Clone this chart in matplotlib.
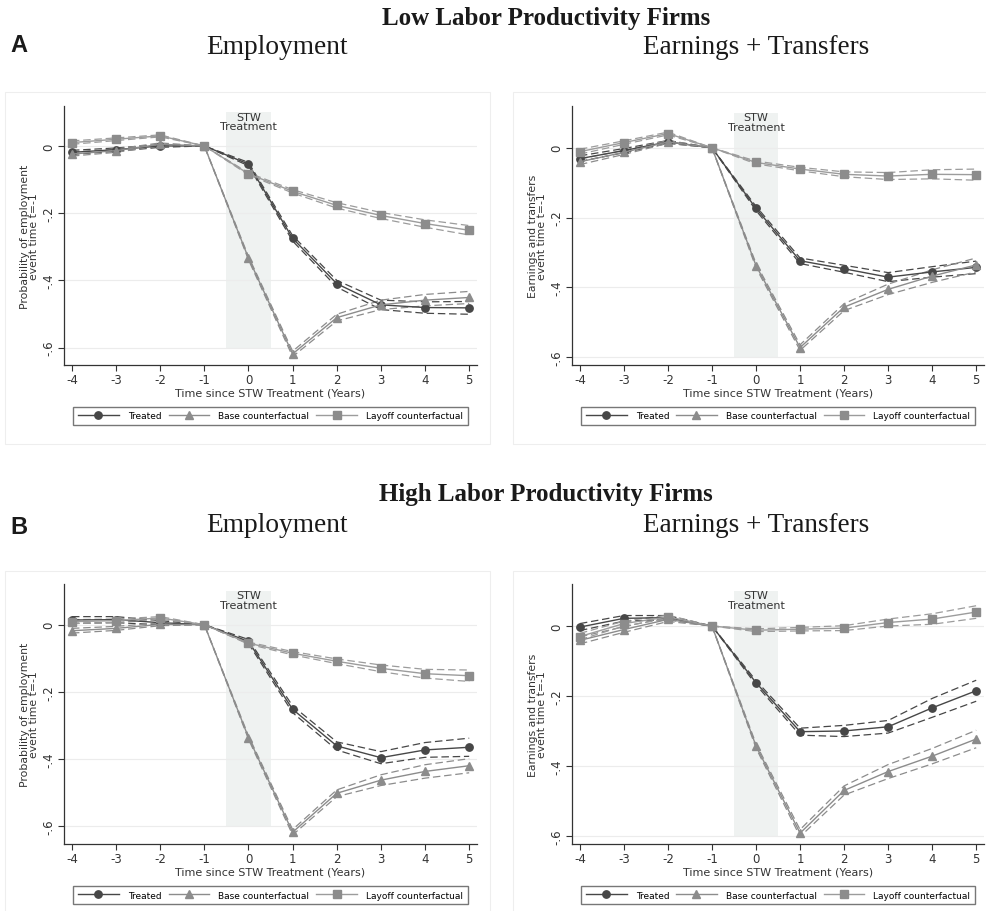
import numpy as np
import matplotlib
matplotlib.use('Agg')
import matplotlib.pyplot as plt
from matplotlib.patches import Rectangle

# Event time relative to STW treatment
years = [-4, -3, -2, -1, 0, 1, 2, 3, 4, 5]

# Panel A, employment (low labor productivity firms)
low_emp_treated = [-0.019, -0.011, 0.000, 0.0, -0.054, -0.275, -0.410, -0.473, -0.481, -0.482]
low_emp_base = [-0.024, -0.014, 0.005, 0.0, -0.334, -0.619, -0.511, -0.473, -0.459, -0.451]
low_emp_layoff = [0.010, 0.020, 0.030, 0.0, -0.083, -0.135, -0.177, -0.207, -0.231, -0.251]
low_emp_treated_ci = [0.006, 0.005, 0.004, 0.0, 0.005, 0.008, 0.010, 0.014, 0.017, 0.019]
low_emp_base_ci = [0.006, 0.005, 0.004, 0.0, 0.005, 0.008, 0.010, 0.014, 0.017, 0.018]
low_emp_layoff_ci = [0.005, 0.004, 0.003, 0.0, 0.003, 0.005, 0.008, 0.009, 0.011, 0.014]

# Panel A, earnings + transfers
low_earn_treated = [-0.031, -0.008, 0.017, 0.0, -0.174, -0.324, -0.347, -0.371, -0.356, -0.343]
low_earn_base = [-0.040, -0.013, 0.017, 0.0, -0.338, -0.573, -0.457, -0.406, -0.368, -0.336]
low_earn_layoff = [-0.011, 0.015, 0.041, 0.0, -0.042, -0.061, -0.076, -0.081, -0.076, -0.077]
low_earn_treated_ci = [0.008, 0.006, 0.004, 0.0, 0.006, 0.008, 0.010, 0.013, 0.015, 0.018]
low_earn_base_ci = [0.008, 0.006, 0.004, 0.0, 0.006, 0.008, 0.010, 0.015, 0.018, 0.020]
low_earn_layoff_ci = [0.007, 0.005, 0.004, 0.0, 0.004, 0.005, 0.007, 0.010, 0.013, 0.016]

# Panel B, employment (high labor productivity firms)
high_emp_treated = [0.014, 0.015, 0.006, 0.0, -0.050, -0.252, -0.361, -0.396, -0.373, -0.365]
high_emp_base = [-0.018, -0.011, 0.001, 0.0, -0.336, -0.618, -0.502, -0.463, -0.437, -0.420]
high_emp_layoff = [0.009, 0.012, 0.020, 0.0, -0.055, -0.085, -0.109, -0.130, -0.146, -0.152]
high_emp_treated_ci = [0.010, 0.009, 0.006, 0.0, 0.006, 0.010, 0.012, 0.018, 0.022, 0.027]
high_emp_base_ci = [0.007, 0.006, 0.004, 0.0, 0.005, 0.008, 0.010, 0.016, 0.020, 0.021]
high_emp_layoff_ci = [0.006, 0.005, 0.004, 0.0, 0.003, 0.005, 0.007, 0.010, 0.013, 0.017]

# Panel B, earnings + transfers
high_earn_treated = [-0.003, 0.022, 0.024, 0.0, -0.162, -0.302, -0.300, -0.288, -0.234, -0.185]
high_earn_base = [-0.041, -0.010, 0.019, 0.0, -0.343, -0.592, -0.470, -0.416, -0.372, -0.323]
high_earn_layoff = [-0.030, 0.007, 0.026, 0.0, -0.012, -0.009, -0.006, 0.010, 0.020, 0.040]
high_earn_treated_ci = [0.010, 0.008, 0.006, 0.0, 0.006, 0.010, 0.016, 0.018, 0.027, 0.030]
high_earn_base_ci = [0.010, 0.008, 0.006, 0.0, 0.006, 0.010, 0.013, 0.020, 0.022, 0.025]
high_earn_layoff_ci = [0.009, 0.007, 0.005, 0.0, 0.004, 0.005, 0.007, 0.010, 0.015, 0.018]

series_labels = ["Treated", "Base counterfactual", "Layoff counterfactual"]
yticks = [0, -0.2, -0.4, -0.6]
ytick_labels = ["0", "-.2", "-.4", "-.6"]

styles = [
    dict(color="#474747", mfc="#474747", marker="o", ms=5.3),
    dict(color="#8c8c8c", mfc="#8c8c8c", marker="^", ms=5.8),
    dict(color="#9c9c9c", mfc="#8c8c8c", marker="s", ms=5.6),
]

plt.rcParams['font.family'] = ['DejaVu Sans']
fig = plt.figure(figsize=(9.86, 9.12), dpi=100)


def draw_panel(rect, series, cis, ylabel):
    ax = fig.add_axes(rect)
    x = np.array(years)
    ax.add_patch(Rectangle((-0.5, -0.6), 1.0, 0.7, facecolor="#eff2f1",
                           edgecolor="none", zorder=0))
    ax.text(0, 0.102, "STW\nTreatment", ha="center", va="top", fontsize=8,
            color="#333333", linespacing=0.95)
    for yt in yticks:
        ax.axhline(yt, color="#ececec", lw=0.8, zorder=0.5)

    # confidence bands first, point estimates on top
    for vals, ci, st in zip(series, cis, styles):
        v = np.array(vals)
        c = np.array(ci)
        for b in (v + c, v - c):
            ax.plot(x, b, color=st["color"], lw=0.9, ls=(0, (6, 3)), zorder=2)
    handles = []
    for vals, st, lab in zip(series, styles, series_labels):
        h, = ax.plot(x, vals, color=st["color"], lw=1.0, marker=st["marker"],
                     ms=st["ms"], mfc=st["mfc"], mec=st["mfc"], label=lab, zorder=3)
        handles.append(h)

    ax.set_xlim(-4.18, 5.18)
    ax.set_xticks(years)
    ax.set_xticklabels([str(v) for v in years])
    ax.set_yticks(yticks)
    ax.set_yticklabels(ytick_labels, rotation=90, va="center")
    for s in ("top", "right"):
        ax.spines[s].set_visible(False)
    for s in ("left", "bottom"):
        ax.spines[s].set_color("#333333")
        ax.spines[s].set_linewidth(0.9)
    ax.tick_params(axis="both", labelsize=8.5, colors="#333333", length=4,
                   width=0.8, pad=2)
    ax.set_xlabel("Time since STW Treatment (Years)", fontsize=8,
                  color="#333333", labelpad=1)
    ax.set_ylabel(ylabel, fontsize=7.8, color="#333333", linespacing=0.95)
    ax.yaxis.set_label_coords(-0.06, 0.5)
    leg = ax.legend(handles=handles, ncol=3, loc="center",
                    bbox_to_anchor=(0.012, -0.239, 0.976, 0.085), mode="expand",
                    fontsize=6.5, handlelength=4.5, frameon=True, fancybox=False,
                    borderpad=0.5, columnspacing=1.0, handletextpad=1.0)
    leg.get_frame().set_edgecolor("#555555")
    leg.get_frame().set_linewidth(1.0)
    return ax


# faint panel borders
for (x0, y0, w, h) in [(5, 93, 485, 352), (513, 93, 480, 352),
                       (5, 572, 485, 350), (513, 572, 480, 350)]:
    fig.add_artist(Rectangle((x0 / 986, 1 - (y0 + h) / 912), w / 986, h / 912,
                             transform=fig.transFigure, facecolor="none",
                             edgecolor="#eeeeee", lw=0.8))

emp_label = "Probability of employment\nevent time t=-1"
earn_label = "Earnings and transfers\nevent time t=-1"

ax = draw_panel([0.0649, 0.5987, 0.419, 0.284],
                [low_emp_treated, low_emp_base, low_emp_layoff],
                [low_emp_treated_ci, low_emp_base_ci, low_emp_layoff_ci], emp_label)
ax.set_ylim(-0.652, 0.119)
ax = draw_panel([0.5801, 0.5987, 0.418, 0.284],
                [low_earn_treated, low_earn_base, low_earn_layoff],
                [low_earn_treated_ci, low_earn_base_ci, low_earn_layoff_ci], earn_label)
ax.set_ylim(-0.623, 0.12)
ax = draw_panel([0.0649, 0.0735, 0.419, 0.285],
                [high_emp_treated, high_emp_base, high_emp_layoff],
                [high_emp_treated_ci, high_emp_base_ci, high_emp_layoff_ci], emp_label)
ax.set_ylim(-0.653, 0.121)
ax = draw_panel([0.5801, 0.0735, 0.418, 0.285],
                [high_earn_treated, high_earn_base, high_earn_layoff],
                [high_earn_treated_ci, high_earn_base_ci, high_earn_layoff_ci], earn_label)
ax.set_ylim(-0.623, 0.12)

# headings
serif = ['Liberation Serif', 'DejaVu Serif']
for y_top, head, letter, y_letter in [(18, "Low Labor Productivity Firms", "A", 45),
                                      (495, "High Labor Productivity Firms", "B", 528)]:
    fig.text(546 / 986, 1 - y_top / 912, head, ha="center", va="center",
             fontsize=18, fontweight="bold", family=serif, color="#1a1a1a")
    fig.text(277 / 986, 1 - (y_top + 30) / 912, "Employment", ha="center",
             va="center", fontsize=19.7, family=serif, color="#1a1a1a")
    fig.text(756 / 986, 1 - (y_top + 30) / 912, "Earnings + Transfers",
             ha="center", va="center", fontsize=19.5, family=serif, color="#1a1a1a")
    fig.text(10 / 986, 1 - y_letter / 912, letter, ha="left", va="center",
             fontsize=17, fontweight="bold", family=['Liberation Sans', 'DejaVu Sans'],
             color="#1a1a1a")

fig.savefig("out.png", dpi=100)
